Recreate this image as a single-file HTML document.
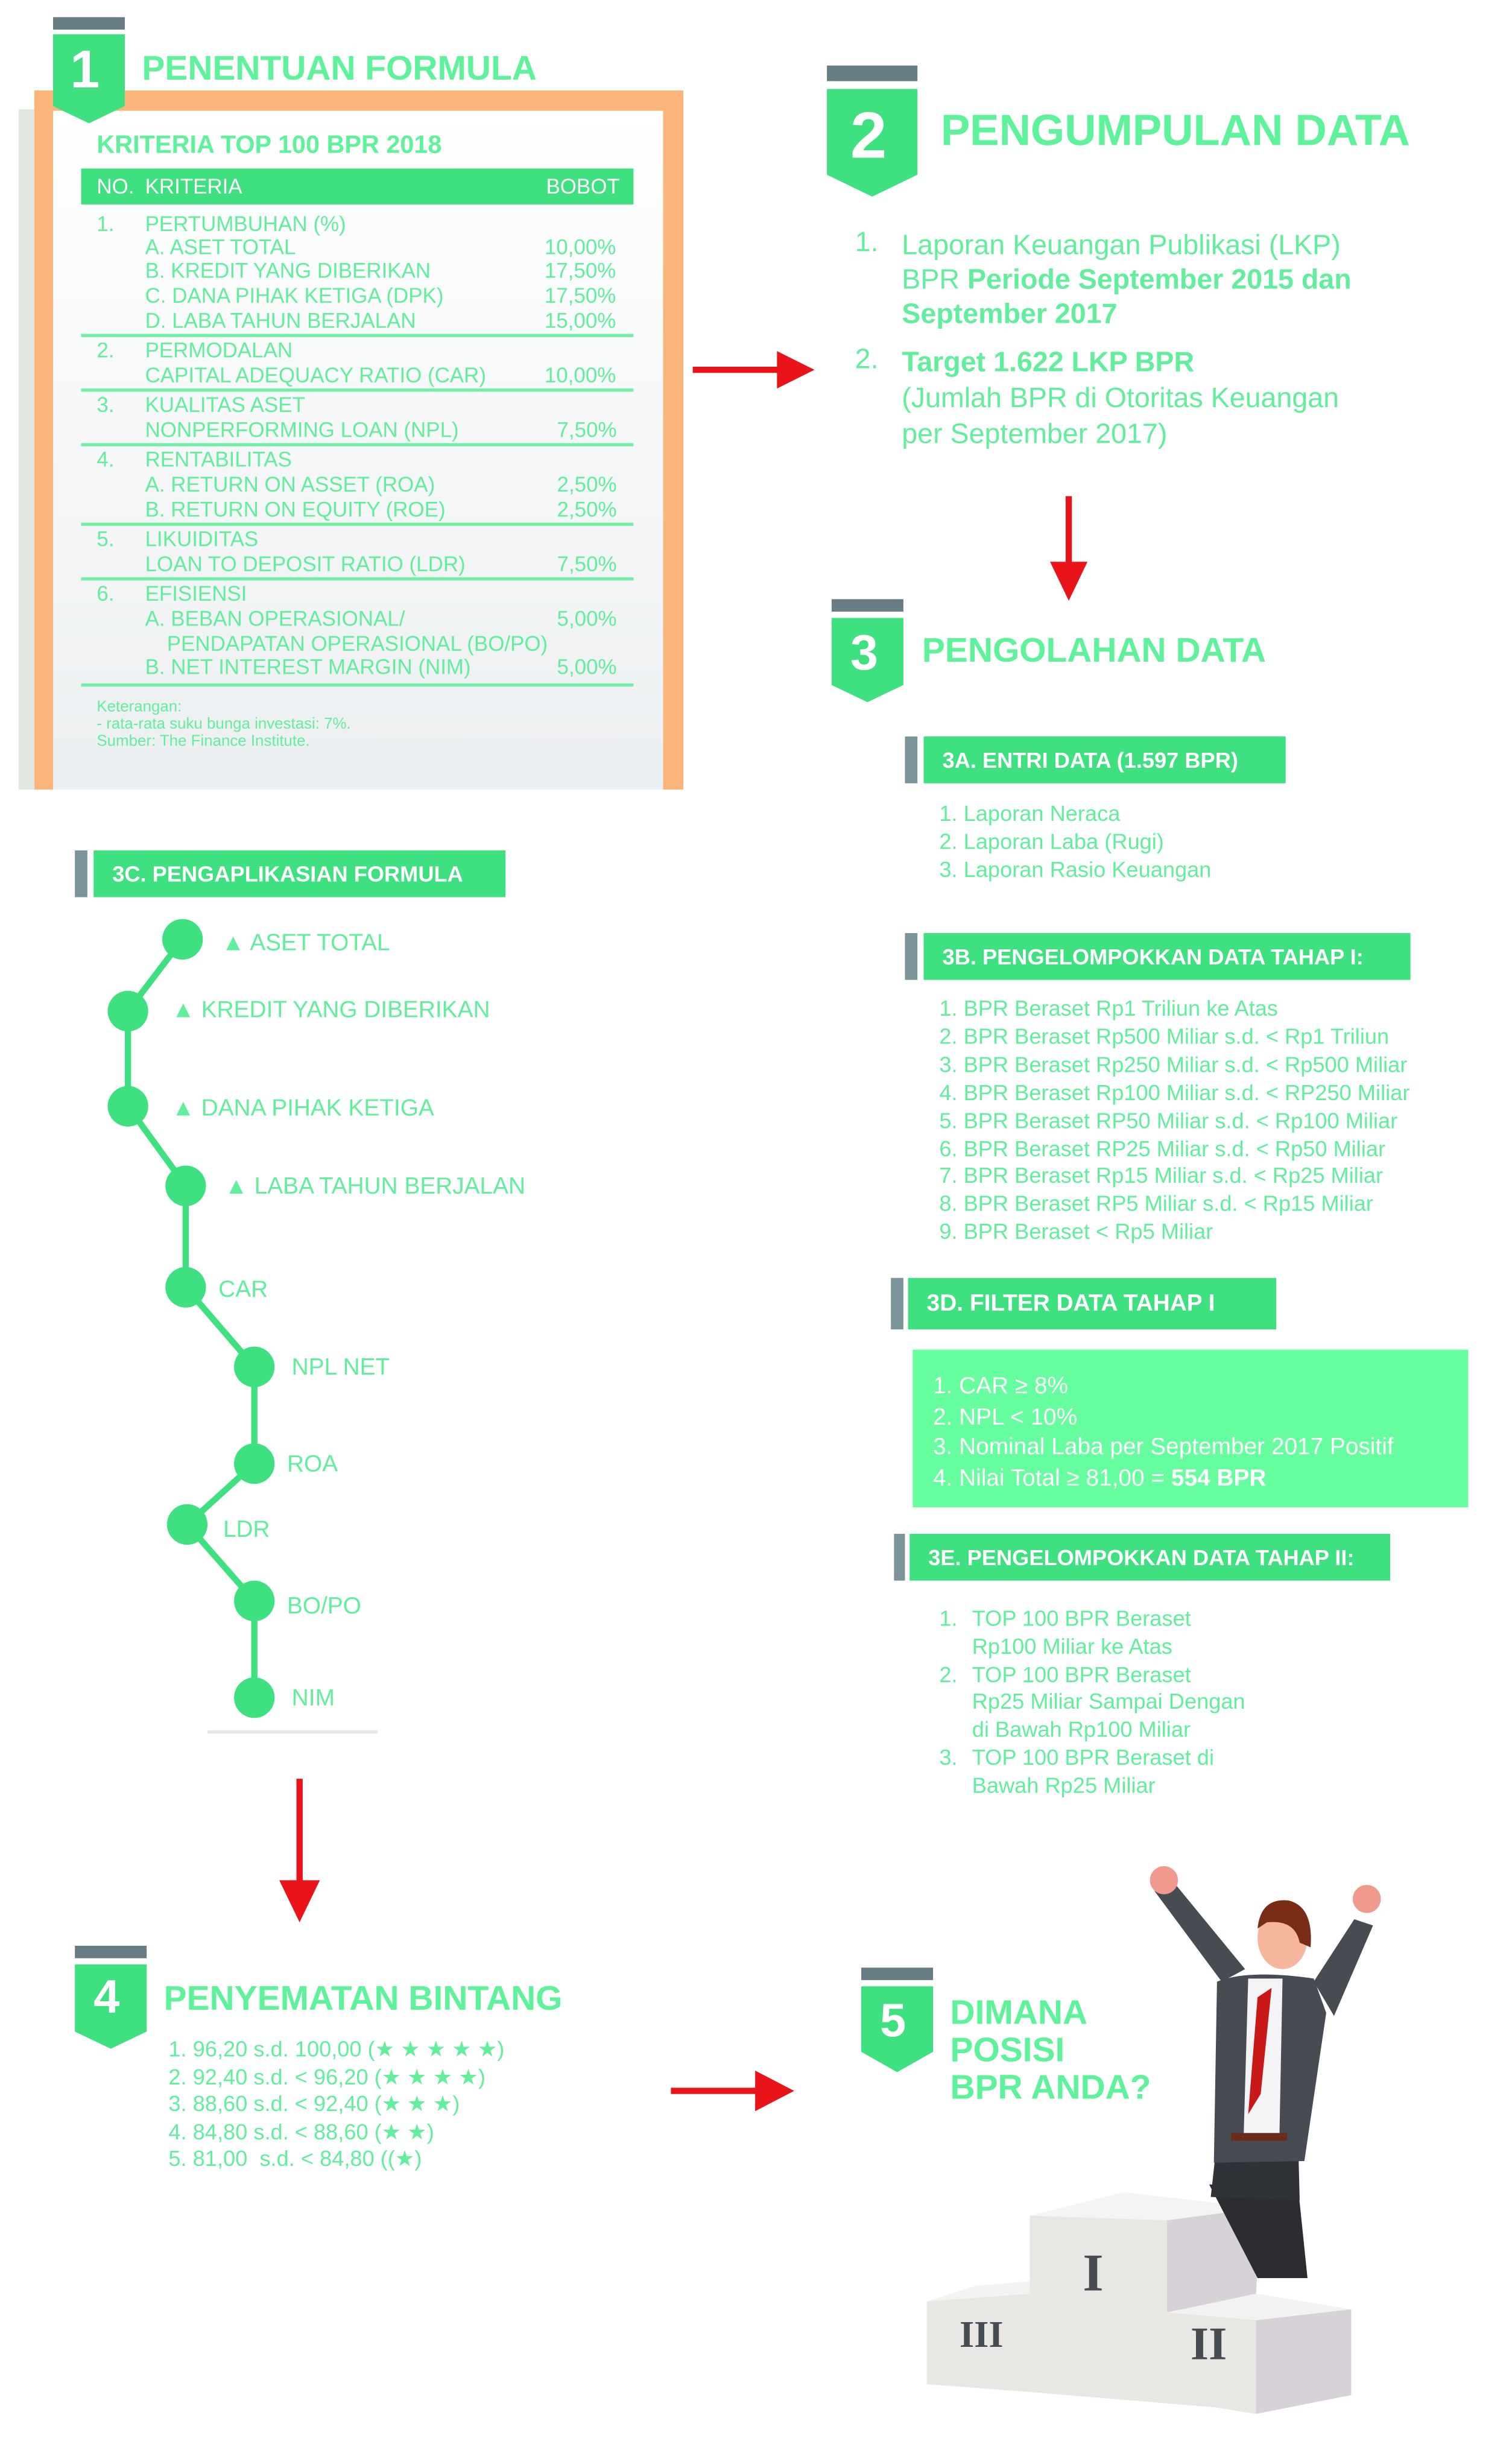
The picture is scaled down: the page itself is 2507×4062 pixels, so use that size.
<!DOCTYPE html>
<html><head><meta charset="utf-8">
<style>
html,body{margin:0;padding:0;background:#fff;}
body{width:2507px;height:4053px;overflow:hidden;position:relative;}
#w{position:absolute;left:0;top:0;width:970px;height:1570px;transform:scale(2.587);transform-origin:0 0;font-family:"Liberation Sans Narrow","Liberation Sans",sans-serif;color:#62ee9c;}
.a{position:absolute;white-space:nowrap;line-height:1;}
.b{font-weight:bold;}
.h{position:absolute;background:#3ee07f;color:#fff;font-weight:bold;font-size:14px;line-height:30px;padding-left:12px;box-sizing:border-box;white-space:nowrap;}
.g{position:absolute;background:#7a949a;}
.r{position:absolute;font-size:13.5px;line-height:1;white-space:nowrap;}
.ln{position:absolute;left:52px;width:354px;height:2px;background:#6ff0a6;}
</style></head><body><div id="w">

<svg width="970" height="1570" style="position:absolute;left:0;top:0" xmlns="http://www.w3.org/2000/svg">
<defs><linearGradient id="gr" x1="0" y1="0" x2="0" y2="1"><stop offset="0" stop-color="#ffffff"/><stop offset="1" stop-color="#eceff1"/></linearGradient></defs>
<rect x="12" y="70" width="12" height="436" fill="#e3e8e1"/>
<rect x="22" y="58" width="416" height="448" fill="#fbb57b"/>
<rect x="34" y="71" width="391" height="435" fill="url(#gr)"/>
<rect x="34" y="11" width="46" height="8" fill="#687c84"/>
<polygon points="34,22 80,22 80,68 57,79 34,68" fill="#3ee07f"/>
<rect x="530" y="42" width="58" height="10" fill="#687c84"/>
<polygon points="530,57 588,57 588,112 559,126 530,112" fill="#3ee07f"/>
<rect x="533" y="384" width="46" height="8" fill="#687c84"/>
<polygon points="533,396 579,396 579,439 556,450 533,439" fill="#3ee07f"/>
<rect x="48" y="1247" width="46" height="8" fill="#687c84"/>
<polygon points="48,1259 94,1259 94,1302 71,1313 48,1302" fill="#3ee07f"/>
<rect x="552" y="1261" width="46" height="8" fill="#687c84"/>
<polygon points="552,1273 598,1273 598,1315 575,1328 552,1315" fill="#3ee07f"/>
<g fill="#e8141a" stroke="#e8141a">
<line x1="444" y1="237" x2="500" y2="237" stroke-width="4"/><polygon points="498,225 522,237 498,249" stroke="none"/>
<line x1="685" y1="318" x2="685" y2="362" stroke-width="4"/><polygon points="673,360 685,385 697,360" stroke="none"/>
<line x1="192" y1="1140" x2="192" y2="1208" stroke-width="4"/><polygon points="179,1205 192,1232 205,1205" stroke="none"/>
<line x1="430" y1="1340" x2="486" y2="1340" stroke-width="4"/><polygon points="484,1327 509,1340 484,1353" stroke="none"/>
</g>
<g stroke="#3ee07f" stroke-width="4" fill="none">
<polyline points="117,602 82,648 82,709 119,760 119,825 163,876 163,938 120,977 163,1026 163,1088"/>
</g>
<g fill="#3ee07f">
<circle cx="117" cy="602" r="13"/><circle cx="82" cy="648" r="13"/><circle cx="82" cy="709" r="13"/><circle cx="119" cy="760" r="13"/><circle cx="119" cy="825" r="13"/><circle cx="163" cy="876" r="13"/><circle cx="163" cy="938" r="13"/><circle cx="120" cy="977" r="13"/><circle cx="163" cy="1026" r="13"/><circle cx="163" cy="1088" r="13"/>
</g>
<rect x="133" y="1109" width="109" height="2" fill="#e6e8e8"/>
<rect x="585" y="865" width="356" height="101" fill="#66fe9e"/>
<polygon points="594,1475 660,1468 660,1533 594,1528" fill="#e9e7e4"/>
<polygon points="594,1475 625,1465 660,1462 660,1470" fill="#f3f3f2"/>
<polygon points="660,1420 748,1410 805,1420 805,1545 660,1533" fill="#e9e7e4"/>
<polygon points="660,1420 720,1405 808,1415 748,1423" fill="#f4f4f3"/>
<polygon points="748,1423 808,1415 805,1470 748,1482" fill="#d7d1d8"/>
<polygon points="748,1482 805,1470 866,1480 805,1487" fill="#f2f2f1"/>
<polygon points="805,1487 866,1480 866,1535 805,1547" fill="#d7d1d8"/>
<polygon points="748,1482 805,1487 805,1547 748,1538" fill="#e9e7e4"/>
<g fill="#474c52" font-family="Liberation Serif,serif" font-weight="bold">
<text x="694" y="1468" font-size="34">I</text>
<text x="615" y="1504" font-size="24">III</text>
<text x="763" y="1512" font-size="30">II</text>
</g>
<g>
<path d="M775,1400 L832,1402 L838,1460 L806,1460 Z" fill="#2b2d31"/>
<path d="M780,1372 L832,1372 L833,1410 L776,1408 Z" fill="#2f3236"/>
<path d="M780,1270 Q800,1262 842,1268 L850,1290 L836,1385 L778,1386 Z" fill="#474b52"/>
<path d="M800,1268 L822,1268 L820,1370 L797,1372 Z" fill="#f4f4f6"/>
<path d="M815,1274 L808,1342 L800,1355 L806,1280 Z" fill="#c91818"/>
<path d="M783,1270 L740,1212 L752,1206 L798,1262 Z" fill="#474b52"/>
<path d="M842,1270 L868,1230 L880,1234 L855,1292 Z" fill="#474b52"/>
<circle cx="746" cy="1205" r="9" fill="#f09a8e"/>
<circle cx="876" cy="1217" r="9" fill="#f09a8e"/>
<ellipse cx="822" cy="1242" rx="16" ry="20" fill="#f6b69e"/>
<path d="M806,1236 Q808,1216 826,1218 Q842,1222 840,1248 L833,1245 Q830,1230 812,1232 Z" fill="#7a2c18"/>
<rect x="789" y="1367" width="36" height="5" fill="#6a2c1a"/>
</g>
</svg>

<div class="a b" style="left:45px;top:28px;font-size:34px;color:#fff;">1</div>
<div class="a b" style="left:91px;top:33px;font-size:22px;color:#5ef29a;">PENENTUAN FORMULA</div>
<div class="a b" style="left:62px;top:86px;font-size:16px;color:#5ef29a;">KRITERIA TOP 100 BPR 2018</div>
<div style="position:absolute;left:52px;top:108px;width:354px;height:23px;background:#3ee07f;"></div>
<div class="r" style="left:62px;top:113px;color:#fff;">NO.</div>
<div class="r" style="left:93px;top:113px;color:#fff;">KRITERIA</div>
<div class="r" style="left:350px;top:113px;color:#fff;">BOBOT</div>

<div class="r" style="left:62px;top:137px;">1.</div>
<div class="r" style="left:93px;top:137px;">PERTUMBUHAN (%)</div>
<div class="r" style="left:93px;top:152px;">A. ASET TOTAL</div><div class="r" style="left:349px;top:152px;">10,00%</div>
<div class="r" style="left:93px;top:167px;">B. KREDIT YANG DIBERIKAN</div><div class="r" style="left:349px;top:167px;">17,50%</div>
<div class="r" style="left:93px;top:183px;">C. DANA PIHAK KETIGA (DPK)</div><div class="r" style="left:349px;top:183px;">17,50%</div>
<div class="r" style="left:93px;top:199px;">D. LABA TAHUN BERJALAN</div><div class="r" style="left:349px;top:199px;">15,00%</div>
<div class="ln" style="top:214px"></div>
<div class="r" style="left:62px;top:218px;">2.</div>
<div class="r" style="left:93px;top:218px;">PERMODALAN</div>
<div class="r" style="left:93px;top:234px;">CAPITAL ADEQUACY RATIO (CAR)</div><div class="r" style="left:349px;top:234px;">10,00%</div>
<div class="ln" style="top:249px"></div>
<div class="r" style="left:62px;top:253px;">3.</div>
<div class="r" style="left:93px;top:253px;">KUALITAS ASET</div>
<div class="r" style="left:93px;top:269px;">NONPERFORMING LOAN (NPL)</div><div class="r" style="left:357px;top:269px;">7,50%</div>
<div class="ln" style="top:284px"></div>
<div class="r" style="left:62px;top:288px;">4.</div>
<div class="r" style="left:93px;top:288px;">RENTABILITAS</div>
<div class="r" style="left:93px;top:304px;">A. RETURN ON ASSET (ROA)</div><div class="r" style="left:357px;top:304px;">2,50%</div>
<div class="r" style="left:93px;top:320px;">B. RETURN ON EQUITY (ROE)</div><div class="r" style="left:357px;top:320px;">2,50%</div>
<div class="ln" style="top:335px"></div>
<div class="r" style="left:62px;top:339px;">5.</div>
<div class="r" style="left:93px;top:339px;">LIKUIDITAS</div>
<div class="r" style="left:93px;top:355px;">LOAN TO DEPOSIT RATIO (LDR)</div><div class="r" style="left:357px;top:355px;">7,50%</div>
<div class="ln" style="top:370px"></div>
<div class="r" style="left:62px;top:374px;">6.</div>
<div class="r" style="left:93px;top:374px;">EFISIENSI</div>
<div class="r" style="left:93px;top:390px;">A. BEBAN OPERASIONAL/</div><div class="r" style="left:357px;top:390px;">5,00%</div>
<div class="r" style="left:107px;top:406px;">PENDAPATAN OPERASIONAL (BO/PO)</div>
<div class="r" style="left:93px;top:421px;">B. NET INTEREST MARGIN (NIM)</div><div class="r" style="left:357px;top:421px;">5,00%</div>
<div class="ln" style="top:438px"></div>
<div class="a" style="left:62px;top:448px;font-size:10px;line-height:11px;">Keterangan:<br>- rata-rata suku bunga investasi: 7%.<br>Sumber: The Finance Institute.</div>

<div class="a b" style="left:545px;top:66px;font-size:42px;color:#fff;">2</div>
<div class="a b" style="left:603px;top:70px;font-size:28px;color:#5ef29a;">PENGUMPULAN DATA</div>
<div class="a" style="left:548px;top:146px;font-size:18px;">1.</div>
<div class="a" style="left:578px;top:146px;font-size:18px;line-height:22px;">Laporan Keuangan Publikasi (LKP)<br>BPR <b>Periode September 2015 dan</b><br><b>September 2017</b></div>
<div class="a" style="left:548px;top:221px;font-size:18px;">2.</div>
<div class="a" style="left:578px;top:221px;font-size:18px;line-height:23px;"><b>Target 1.622 LKP BPR</b><br>(Jumlah BPR di Otoritas Keuangan<br>per September 2017)</div>

<div class="a b" style="left:545px;top:402px;font-size:32px;color:#fff;">3</div>
<div class="a b" style="left:591px;top:406px;font-size:22px;color:#5ef29a;">PENGOLAHAN DATA</div>

<div class="g" style="left:580px;top:472px;width:8px;height:30px"></div>
<div class="h" style="left:592px;top:472px;width:232px;height:30px;">3A. ENTRI DATA (1.597 BPR)</div>
<div class="a" style="left:602px;top:513px;font-size:14px;line-height:17.8px;">1. Laporan Neraca<br>2. Laporan Laba (Rugi)<br>3. Laporan Rasio Keuangan</div>

<div class="g" style="left:580px;top:598px;width:8px;height:30px"></div>
<div class="h" style="left:592px;top:598px;width:312px;height:30px;">3B. PENGELOMPOKKAN DATA TAHAP I:</div>
<div class="a" style="left:602px;top:638px;font-size:14px;line-height:17.9px;">1. BPR Beraset Rp1 Triliun ke Atas<br>2. BPR Beraset Rp500 Miliar s.d. &lt; Rp1 Triliun<br>3. BPR Beraset Rp250 Miliar s.d. &lt; Rp500 Miliar<br>4. BPR Beraset Rp100 Miliar s.d. &lt; RP250 Miliar<br>5. BPR Beraset RP50 Miliar s.d. &lt; Rp100 Miliar<br>6. BPR Beraset RP25 Miliar s.d. &lt; Rp50 Miliar<br>7. BPR Beraset Rp15 Miliar s.d. &lt; Rp25 Miliar<br>8. BPR Beraset RP5 Miliar s.d. &lt; Rp15 Miliar<br>9. BPR Beraset &lt; Rp5 Miliar</div>

<div class="g" style="left:571px;top:819px;width:8px;height:33px"></div>
<div class="h" style="left:582px;top:819px;width:236px;height:33px;line-height:33px;font-size:15px;">3D. FILTER DATA TAHAP I</div>
<div class="a" style="left:598px;top:879px;font-size:15px;line-height:19.5px;color:#fff;">1. CAR ≥ 8%<br>2. NPL &lt; 10%<br>3. Nominal Laba per September 2017 Positif<br>4. Nilai Total ≥ 81,00 = <b>554 BPR</b></div>

<div class="g" style="left:573px;top:983px;width:7px;height:30px"></div>
<div class="h" style="left:583px;top:983px;width:308px;height:30px;">3E. PENGELOMPOKKAN DATA TAHAP II:</div>
<div class="a" style="left:602px;top:1029px;font-size:14px;line-height:17.8px;">1.<br><br>2.<br><br><br>3.</div>
<div class="a" style="left:623px;top:1029px;font-size:14px;line-height:17.8px;">TOP 100 BPR Beraset<br>Rp100 Miliar ke Atas<br>TOP 100 BPR Beraset<br>Rp25 Miliar Sampai Dengan<br>di Bawah Rp100 Miliar<br>TOP 100 BPR Beraset di<br>Bawah Rp25 Miliar</div>

<div class="g" style="left:48px;top:545px;width:8px;height:30px"></div>
<div class="h" style="left:60px;top:545px;width:264px;height:30px;">3C. PENGAPLIKASIAN FORMULA</div>
<div class="a" style="left:142px;top:597px;font-size:15px;">▲ ASET TOTAL</div>
<div class="a" style="left:110px;top:640px;font-size:15px;">▲ KREDIT YANG DIBERIKAN</div>
<div class="a" style="left:110px;top:703px;font-size:15px;">▲ DANA PIHAK KETIGA</div>
<div class="a" style="left:144px;top:753px;font-size:15px;">▲ LABA TAHUN BERJALAN</div>
<div class="a" style="left:140px;top:819px;font-size:15px;">CAR</div>
<div class="a" style="left:187px;top:869px;font-size:15px;">NPL NET</div>
<div class="a" style="left:184px;top:931px;font-size:15px;">ROA</div>
<div class="a" style="left:143px;top:973px;font-size:15px;">LDR</div>
<div class="a" style="left:184px;top:1022px;font-size:15px;">BO/PO</div>
<div class="a" style="left:187px;top:1081px;font-size:15px;">NIM</div>

<div class="a b" style="left:60px;top:1266px;font-size:30px;color:#fff;">4</div>
<div class="a b" style="left:105px;top:1270px;font-size:22px;color:#5ef29a;">PENYEMATAN BINTANG</div>
<div class="a" style="left:108px;top:1305px;font-size:14px;line-height:17.6px;">1. 96,20 s.d. 100,00 (★ ★ ★ ★ ★)<br>2. 92,40 s.d. &lt; 96,20 (★ ★ ★ ★)<br>3. 88,60 s.d. &lt; 92,40 (★ ★ ★)<br>4. 84,80 s.d. &lt; 88,60 (★ ★)<br>5. 81,00 &nbsp;s.d. &lt; 84,80 ((★)</div>

<div class="a b" style="left:564px;top:1281px;font-size:30px;color:#fff;">5</div>
<div class="a b" style="left:609px;top:1278px;font-size:22px;line-height:24px;color:#5ef29a;">DIMANA<br>POSISI<br>BPR ANDA?</div>

</div></body></html>
